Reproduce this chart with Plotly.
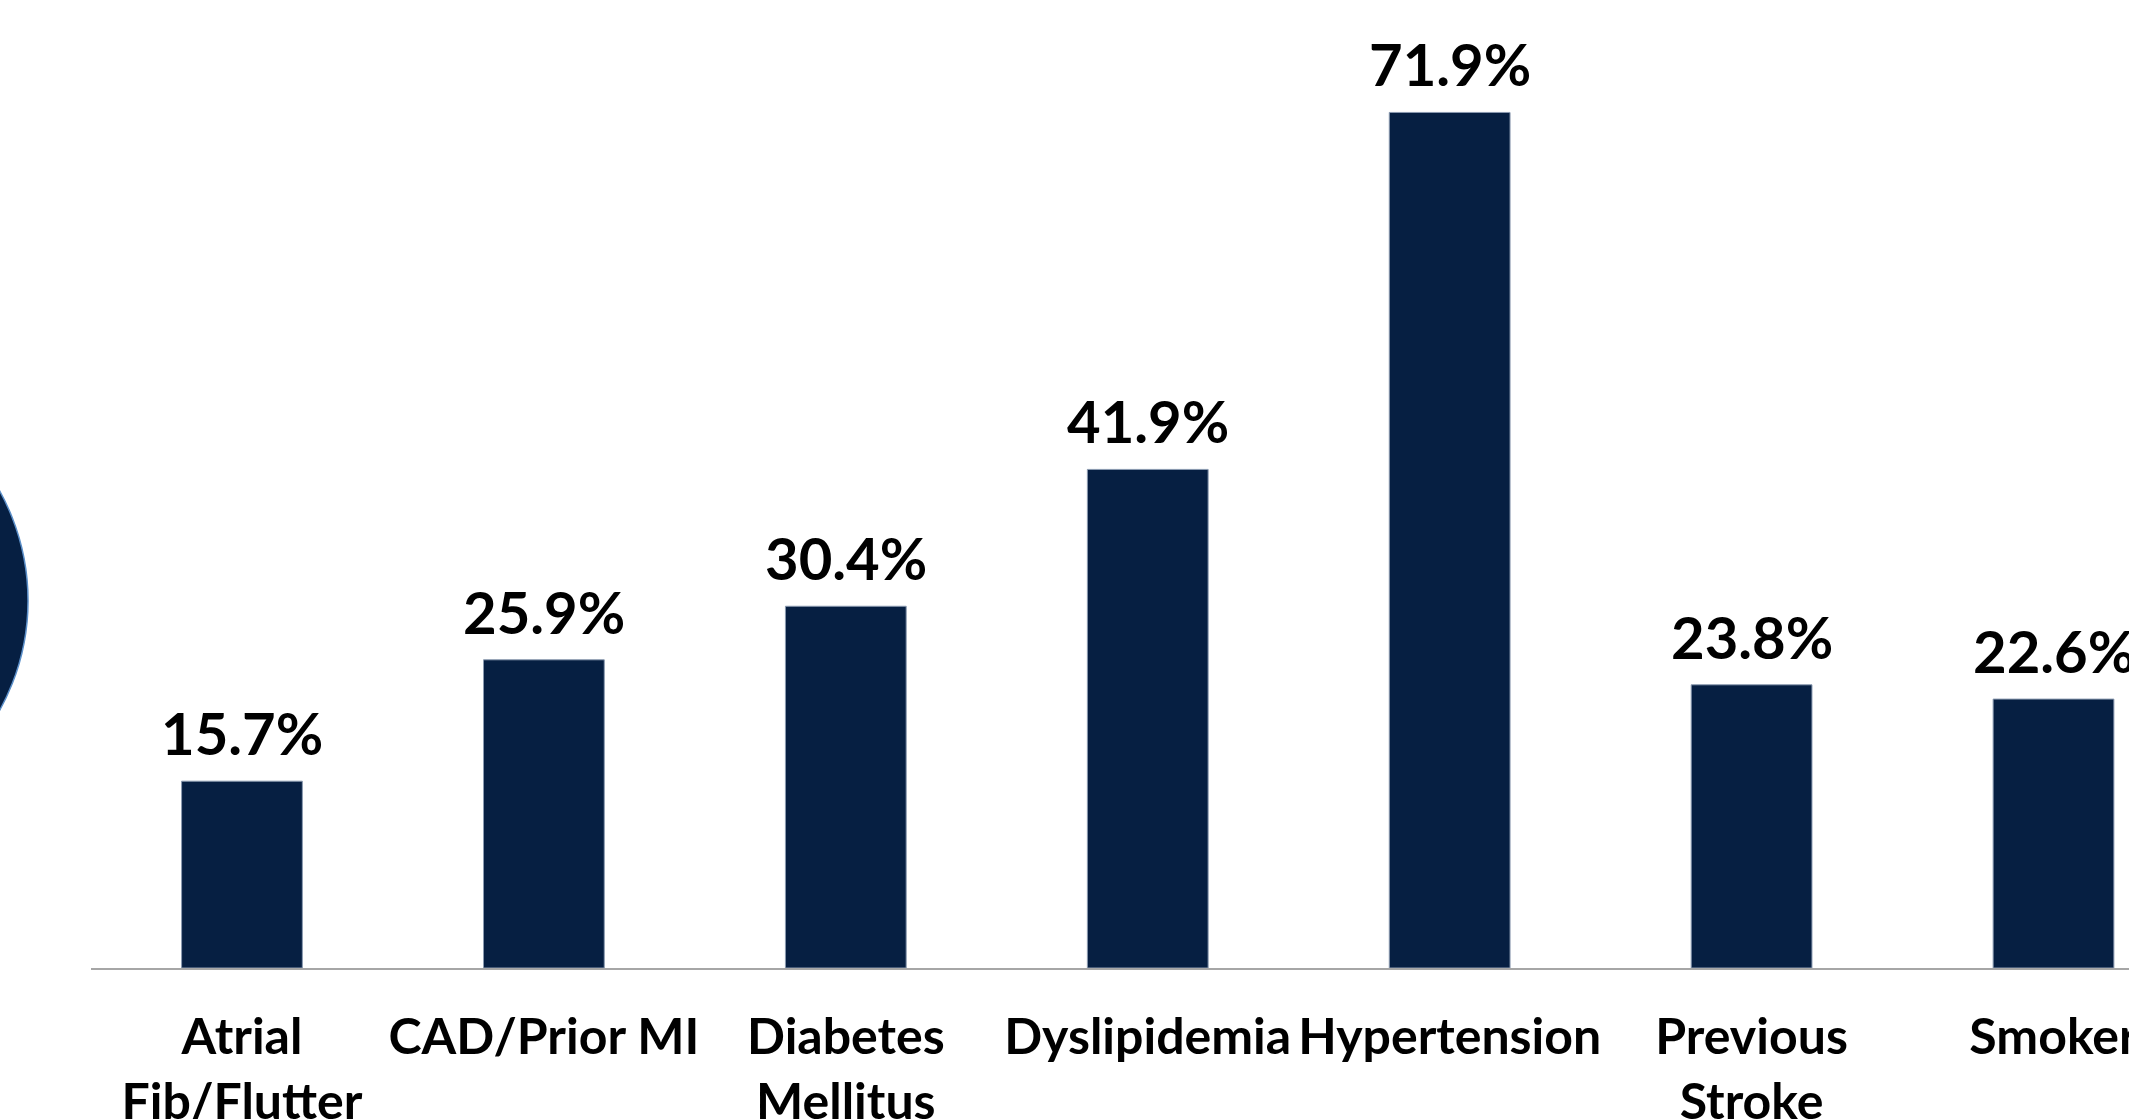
import plotly.graph_objects as go

categories = ["Atrial<br>Fib/Flutter", "CAD/Prior MI", "Diabetes<br>Mellitus",
              "Dyslipidemia", "Hypertension", "Previous<br>Stroke", "Smoker"]
values = [15.7, 25.9, 30.4, 41.9, 71.9, 23.8, 22.6]
value_labels = [f"{v:.1f}%" for v in values]

BAR = "#061F42"
FONT = "Lato"

fig = go.Figure()
fig.add_trace(go.Bar(
    x=categories, y=values,
    marker=dict(color=BAR, line=dict(color="#8A9AB0", width=1)),
    width=0.4,
    cliponaxis=False,
    hoverinfo="skip",
))

for c, v, t in zip(categories, values, value_labels):
    fig.add_annotation(x=c, y=v, text=t, showarrow=False, yanchor="bottom",
                       yshift=12, font=dict(family=FONT, size=58, color="black", weight="bold"))

# decorative circle at left edge
fig.add_shape(type="circle", xref="paper", yref="paper",
              x0=-0.2527, x1=-0.0309, y0=0.146, y1=0.613,
              fillcolor=BAR, line=dict(color="#5B8FC9", width=1.5), layer="above")

fig.update_layout(
    width=2129, height=1119,
    margin=dict(l=91, r=0, t=0, b=151, autoexpand=False),
    paper_bgcolor="white", plot_bgcolor="white",
    showlegend=False,
    bargap=0.6,
    xaxis=dict(
        type="category", range=[-0.5, 6.25], automargin=False,
        showline=True, linecolor="#A6A6A6", linewidth=2,
        showgrid=False, zeroline=False, ticks="", tickangle=0,
        ticklabelstandoff=24,
        tickfont=dict(family=FONT, size=50, color="black", weight="bold"),
    ),
    yaxis=dict(range=[0, 81.35], visible=False, showgrid=False, zeroline=False,
               automargin=False),
)

fig.write_html("out.html")
